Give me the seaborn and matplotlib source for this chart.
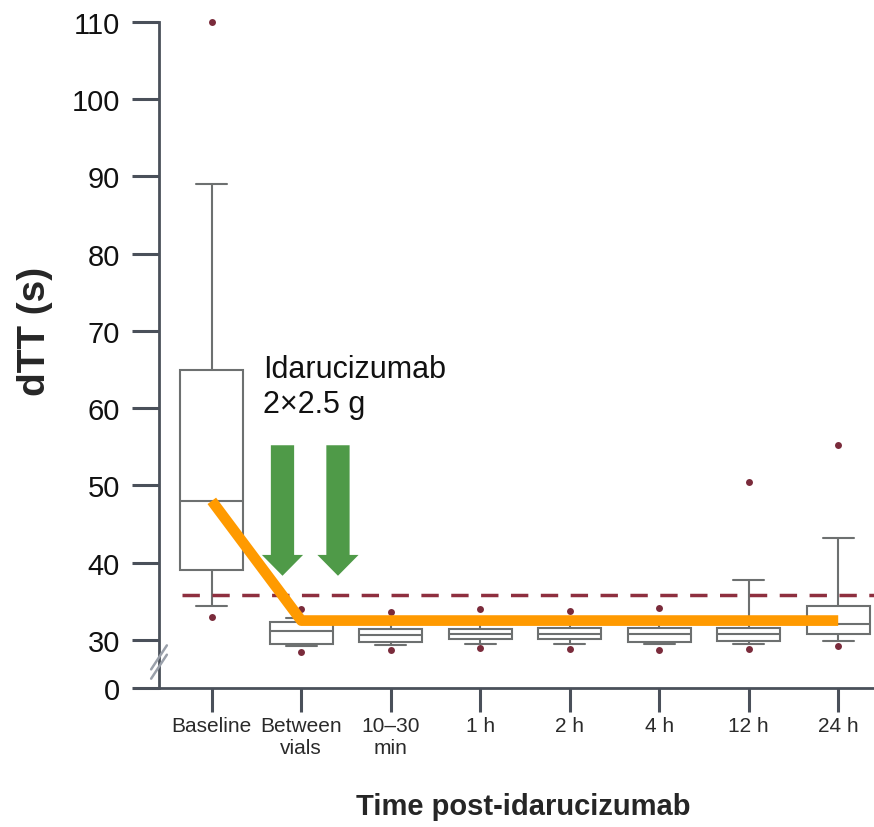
import numpy as np
import pandas as pd
import matplotlib
matplotlib.use("Agg")
import matplotlib.pyplot as plt
from matplotlib.patches import FancyArrow
import seaborn as sns

# box summaries (dTT, seconds)
times = ["Baseline", "Between\nvials", "10\u201330\nmin", "1 h", "2 h", "4 h", "12 h", "24 h"]
whisker_low = [34.4, 29.2, 29.3, 29.5, 29.5, 29.5, 29.5, 29.8]
q1 = [39.0, 29.5, 29.7, 30.1, 30.1, 29.7, 29.8, 30.8]
median = [48.0, 31.2, 30.6, 30.8, 30.8, 30.8, 30.8, 32.0]
q3 = [65.0, 32.3, 31.4, 31.4, 31.5, 31.6, 31.6, 34.4]
whisker_high = [89.0, 32.8, 32.0, 32.0, 32.0, 32.2, 37.8, 43.2]
outlier_low = [33.0, 28.4, 28.7, 29.0, 28.8, 28.7, 28.8, 29.2]
outlier_high = [110.0, 34.0, 33.6, 34.0, 33.7, 34.1, 50.5, 55.2]
trend = [48.0, 32.5, 32.5, 32.5, 32.5, 32.5, 32.5, 32.5]
threshold = 35.8
yticks = [0, 30, 40, 50, 60, 70, 80, 90, 100, 110]

box_df = pd.DataFrame({
    "time": np.repeat(times, 5),
    "dtt": np.column_stack([whisker_low, q1, median, q3, whisker_high]).ravel(),
})
out_df = pd.DataFrame({
    "time": times + times,
    "dtt": outlier_low + outlier_high,
})

sns.set_style("ticks")
plt.rcParams["font.family"] = ["Liberation Sans", "DejaVu Sans"]

fig = plt.figure(figsize=(8.74, 8.28), dpi=100)
ax = fig.add_axes([159 / 874, 1 - 689 / 828, 715 / 874, 666 / 828])

sns.boxplot(data=box_df, x="time", y="dtt", order=times, whis=(0, 100),
            width=0.7, color="white", linecolor="#6d7070", linewidth=1.5,
            showfliers=False, ax=ax)
sns.stripplot(data=out_df, x="time", y="dtt", order=times, jitter=False,
              color="#7a2b3b", size=5, linewidth=0, ax=ax, zorder=3,
              clip_on=False)

ax.hlines(threshold, -0.33, 7.4, colors="#8e2f3f", linestyles=(0, (5, 3.6)),
          linewidth=2.5, zorder=2)

sns.lineplot(x=np.arange(len(times)), y=trend, color="#ff9a00", linewidth=7.7,
             solid_capstyle="butt", ax=ax, zorder=6)

# green dosing arrows
for xa in (0.79, 1.41):
    ax.add_patch(FancyArrow(xa, 55.2, 0, -16.9, width=0.26, head_width=0.46,
                            head_length=2.7, length_includes_head=True,
                            color="#4f9a48", lw=0, zorder=4))
ax.text(0.57, 59.5, "Idarucizumab\n2\u00d72.5 g", fontsize=22, ha="left",
        va="baseline", color="#111111", linespacing=1.2)

# broken y axis: linear above 26, 0-26 squeezed into a short segment
brk, lo = 26.0, 23.77
def fwd(y):
    y = np.asarray(y, dtype=float)
    return np.where(y < brk, lo + y * (brk - lo) / brk, y)
def inv(y):
    y = np.asarray(y, dtype=float)
    return np.where(y < brk, (y - lo) * brk / (brk - lo), y)
ax.set_yscale("function", functions=(fwd, inv))
ax.set_ylim(0, 110)
ax.set_yticks(yticks)
ax.set_yticklabels([str(t) for t in yticks])
ax.set_xlim(-0.59, 7.4)

sns.despine(ax=ax)
for s in ("left", "bottom"):
    ax.spines[s].set_linewidth(2)
    ax.spines[s].set_color("#4a505a")
ax.tick_params(axis="y", length=19.5, width=2.2, color="#4a505a", pad=8.5,
               labelsize=21, labelcolor="#111111")
ax.tick_params(axis="x", length=17, width=2.2, color="#4a505a", pad=3.5,
               labelsize=15, labelcolor="#2a2a2a")

# break marks on the y axis
for dy in (-0.007, 0.007):
    ax.plot([-0.011, 0.011], [0.039 + dy - 0.018, 0.039 + dy + 0.018],
            transform=ax.transAxes, color="#9aa0aa", lw=1.8, clip_on=False,
            zorder=7)

ax.set_xlabel("Time post-idarucizumab", fontsize=21, fontweight="bold")
ax.set_ylabel("dTT (s)", fontsize=28, fontweight="bold")
ax.xaxis.set_label_coords(0.51, -0.156)
ax.yaxis.set_label_coords(-0.148, 0.537)

fig.savefig("out.png", dpi=100)
